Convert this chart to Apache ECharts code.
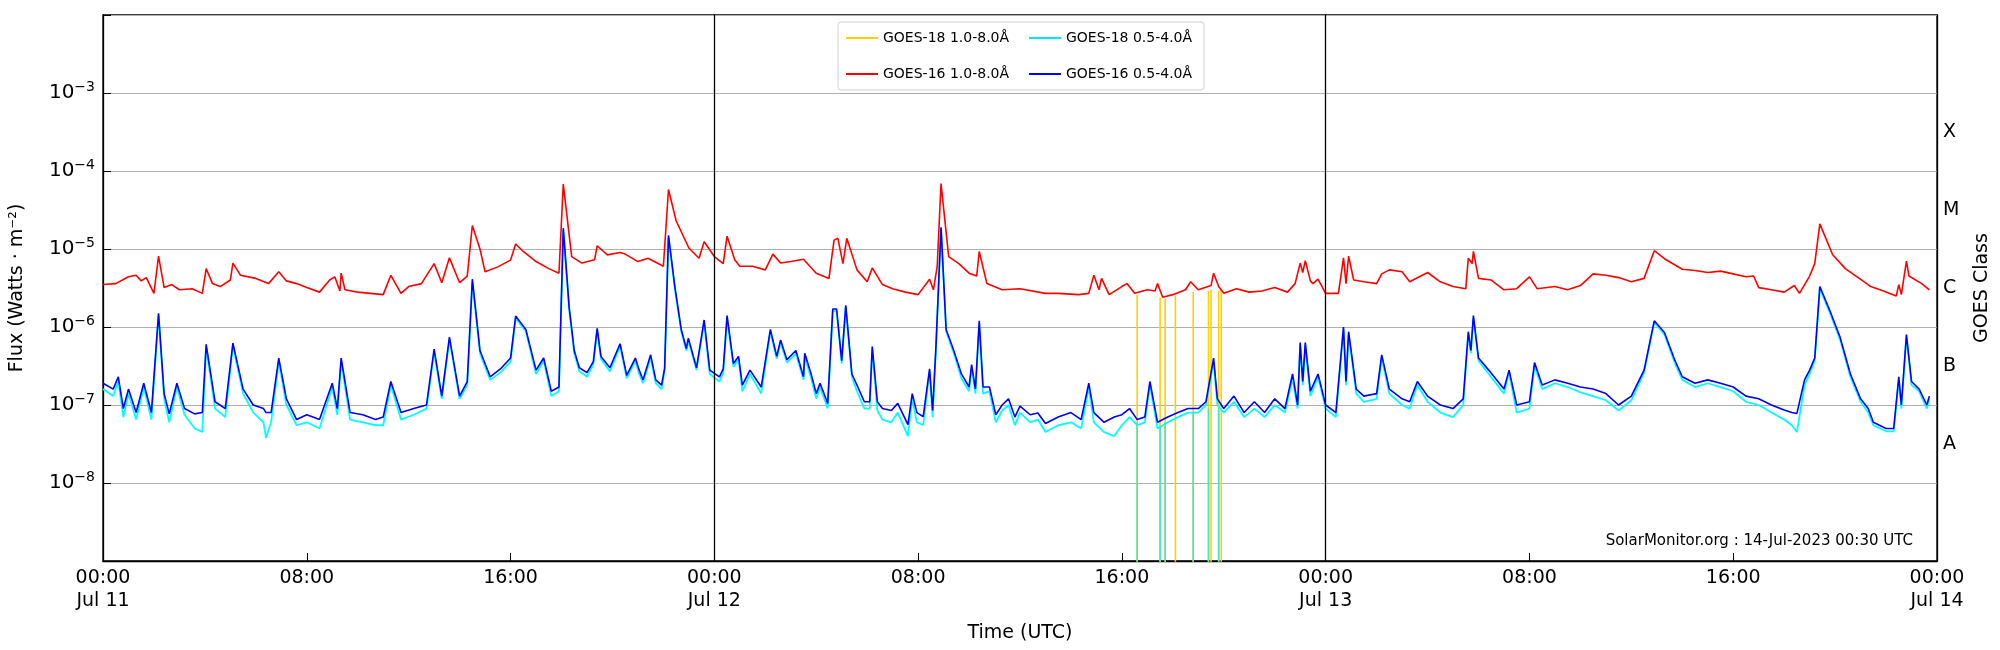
<!DOCTYPE html>
<html><head><meta charset="utf-8">
<script src="https://cdn.jsdelivr.net/npm/echarts@6/dist/echarts.min.js"></script>
<style>html,body{margin:0;padding:0;background:#fff}#c{width:2000px;height:650px}</style>
</head><body><div id="c"></div>
<script>
// ---- data (hours since 2023-07-11 00:00 UTC) ----
const xTickLabels = ['00:00\nJul 11','08:00','16:00','00:00\nJul 12','08:00','16:00','00:00\nJul 13','08:00','16:00','00:00\nJul 14'];
const classLabels = {'-7.5':'A','-6.5':'B','-5.5':'C','-4.5':'M','-3.5':'X'};

const longHours = [0,0.5,1,1.3,1.5,1.7,2,2.18,2.4,2.7,3,3.5,3.9,4.05,4.3,4.6,5,5.1,5.4,6,6.5,6.9,7.2,7.6,8,8.5,8.9,9.1,9.3,9.35,9.5,10,10.5,11,11.3,11.7,12,12.5,13,13.3,13.6,14,14.3,14.5,14.8,15,15.5,16,16.2,16.5,17,17.5,17.9,18.07,18.4,18.8,19.3,19.4,19.8,20.3,20.5,21,21.4,22,22.2,22.5,23,23.4,23.6,24,24.35,24.5,24.8,25,25.5,26,26.3,26.6,27,27.5,28,28.5,28.7,28.85,29.05,29.2,29.6,30,30.2,30.6,31,31.5,32,32.45,32.6,32.75,32.9,33.2,33.6,34,34.3,34.4,34.7,35.3,36,37,37.5,38.3,38.7,38.9,39.1,39.2,39.5,40,40.2,40.5,41,41.3,41.4,41.6,42,42.5,42.7,43,43.5,43.6,43.8,44,44.5,45,45.5,46,46.5,46.8,47,47.1,47.2,47.4,47.5,47.7,48,48.5,48.7,48.8,48.9,49.1,49.5,50,50.2,50.5,51,51.3,52,52.5,53,53.5,53.6,53.75,53.8,54,54.5,55,55.5,56,56.3,57,57.5,58,58.5,59,59.5,60,60.5,60.9,61.3,62,62.5,63,63.5,64,64.5,64.8,65,65.5,66,66.4,66.6,67,67.2,67.4,67.9,68.4,68.95,69.4,69.9,70.4,70.5,70.6,70.8,70.9,71.4,71.7];
const g16Long = [3.5e-6,3.6e-6,4.4e-6,4.6e-6,3.9e-6,4.3e-6,2.7e-6,8.1e-6,3.2e-6,3.5e-6,3.0e-6,3.1e-6,2.7e-6,5.6e-6,3.6e-6,3.3e-6,4.0e-6,6.6e-6,4.6e-6,4.2e-6,3.6e-6,5.1e-6,3.9e-6,3.6e-6,3.2e-6,2.8e-6,4.0e-6,4.4e-6,2.9e-6,4.9e-6,3.0e-6,2.8e-6,2.7e-6,2.6e-6,4.6e-6,2.7e-6,3.3e-6,3.6e-6,6.5e-6,3.7e-6,7.7e-6,3.7e-6,4.5e-6,2.0e-5,1.0e-5,5.1e-6,5.9e-6,7.2e-6,1.16e-5,9.3e-6,6.9e-6,5.6e-6,4.9e-6,6.8e-5,8e-6,6.6e-6,7.3e-6,1.1e-5,8.4e-6,9e-6,8.6e-6,6.9e-6,7.6e-6,6.0e-6,5.8e-5,2.3e-5,1.03e-5,7.6e-6,1.24e-5,8e-6,6.5e-6,1.46e-5,7.3e-6,6.0e-6,6.0e-6,5.4e-6,8.6e-6,6.6e-6,6.9e-6,7.4e-6,4.9e-6,4.2e-6,1.3e-5,1.37e-5,6.5e-6,1.37e-5,5.4e-6,3.8e-6,5.7e-6,3.5e-6,3.1e-6,2.8e-6,2.6e-6,4.1e-6,3.0e-6,6e-6,6.9e-5,8e-6,6.5e-6,4.9e-6,4.5e-6,9.3e-6,3.6e-6,3.0e-6,3.1e-6,2.7e-6,2.7e-6,2.6e-6,2.7e-6,4.6e-6,3.0e-6,4.2e-6,2.6e-6,3.3e-6,3.6e-6,2.7e-6,3.0e-6,2.9e-6,3.6e-6,2.4e-6,2.6e-6,3.0e-6,3.8e-6,3.0e-6,3.4e-6,4.9e-6,3.3e-6,2.7e-6,3.1e-6,2.8e-6,2.9e-6,3.2e-6,2.8e-6,3.6e-6,6.6e-6,5e-6,7.1e-6,3.9e-6,3.6e-6,4.1e-6,2.7e-6,2.7e-6,7.7e-6,3.6e-6,8.1e-6,4.0e-6,3.8e-6,3.6e-6,4.8e-6,5.4e-6,5.1e-6,3.8e-6,5.0e-6,3.8e-6,3.3e-6,3.1e-6,7.6e-6,6.5e-6,9.3e-6,4.2e-6,4.0e-6,3.0e-6,3.1e-6,4.4e-6,3.1e-6,3.3e-6,3.0e-6,3.4e-6,4.8e-6,4.6e-6,4.3e-6,3.8e-6,4.2e-6,9.5e-6,7.5e-6,5.5e-6,5.3e-6,5.0e-6,5.2e-6,4.8e-6,4.4e-6,4.5e-6,3.2e-6,3.0e-6,2.8e-6,3.4e-6,2.7e-6,4.5e-6,6.5e-6,2.1e-5,8.5e-6,5.6e-6,4.2e-6,3.3e-6,2.9e-6,2.5e-6,3.5e-6,2.6e-6,7e-6,4.5e-6,3.6e-6,3.0e-6];

const shortHours = [0,0.4,0.6,0.8,1.0,1.3,1.6,1.9,2.18,2.4,2.6,2.9,3.2,3.6,3.9,4.05,4.4,4.8,5.1,5.5,5.9,6.3,6.4,6.6,6.9,7.2,7.6,8.0,8.5,9.0,9.2,9.35,9.7,10.2,10.7,11.0,11.3,11.7,12.2,12.7,13.0,13.3,13.6,14.0,14.3,14.5,14.8,15.2,15.6,16.0,16.2,16.6,17.0,17.3,17.6,17.9,18.07,18.3,18.5,18.7,19.0,19.25,19.4,19.55,19.9,20.3,20.56,20.9,21.05,21.2,21.5,21.7,21.93,22.05,22.2,22.45,22.7,22.9,22.98,23.3,23.6,23.82,24.2,24.35,24.5,24.75,24.95,25.1,25.4,25.84,26.2,26.45,26.6,26.85,27.2,27.5,27.55,27.8,28.0,28.15,28.45,28.65,28.8,29.0,29.16,29.4,29.6,29.89,30.1,30.2,30.4,30.6,30.95,31.2,31.6,31.77,31.95,32.2,32.45,32.57,32.7,32.9,33.1,33.4,33.7,34.0,34.1,34.25,34.4,34.55,34.8,35.05,35.3,35.55,35.8,36.0,36.4,36.7,37.0,37.5,38.0,38.4,38.7,38.9,39.3,39.7,40.0,40.3,40.6,40.9,41.1,41.4,41.8,42.2,42.6,43.0,43.3,43.6,43.75,44.0,44.4,44.8,45.2,45.6,46.0,46.4,46.7,46.9,47.0,47.1,47.2,47.4,47.7,48.0,48.4,48.7,48.8,48.9,49.2,49.5,50.0,50.2,50.5,51.0,51.3,51.6,52.0,52.5,53.0,53.4,53.6,53.7,53.8,54.0,54.4,55.0,55.2,55.5,56.0,56.2,56.5,57.0,57.5,58.0,58.5,59.0,59.5,60.0,60.5,60.9,61.3,61.7,62.0,62.5,63.0,63.5,64.0,64.5,65.0,65.5,66.0,66.3,66.5,66.8,67.0,67.2,67.4,67.8,68.2,68.6,69.0,69.3,69.5,70.0,70.3,70.5,70.6,70.8,71.0,71.3,71.6,71.7];
const g16Short = [1.9e-7,1.6e-7,2.3e-7,9e-8,1.6e-7,8e-8,1.9e-7,8e-8,1.5e-6,1.4e-7,7.7e-8,1.9e-7,9e-8,7.7e-8,8e-8,6e-7,1.1e-7,9e-8,6.2e-7,1.6e-7,1e-7,9e-8,8e-8,8e-8,4e-7,1.2e-7,6.5e-8,7.5e-8,6.5e-8,1.9e-7,9e-8,4e-7,8e-8,7.5e-8,6.5e-8,7e-8,2e-7,8e-8,9e-8,1e-7,5.2e-7,1.3e-7,7.4e-7,1.3e-7,2e-7,4.1e-6,5e-7,2.3e-7,2.9e-7,4e-7,1.38e-6,9.3e-7,2.8e-7,4e-7,1.5e-7,1.7e-7,1.85e-5,1.8e-6,5e-7,3e-7,2.6e-7,3.6e-7,9.6e-7,4.2e-7,3e-7,6.1e-7,2.4e-7,4e-7,2.8e-7,2.1e-7,4.4e-7,2.1e-7,1.8e-7,3e-7,1.5e-5,3.3e-6,9.3e-7,5.3e-7,7.2e-7,3e-7,1.23e-6,2.8e-7,2.3e-7,2.9e-7,1.4e-6,3.4e-7,4.2e-7,1.8e-7,2.8e-7,1.7e-7,9.3e-7,4.2e-7,6.8e-7,3.8e-7,5e-7,2.3e-7,4.6e-7,2.5e-7,1.4e-7,1.9e-7,1.05e-7,1.7e-6,1.7e-6,3.7e-7,1.9e-6,2.5e-7,1.8e-7,1.1e-7,1.1e-7,5.6e-7,1.1e-7,9e-8,8.5e-8,1.05e-7,5.6e-8,1.4e-7,8e-8,7.1e-8,2.9e-7,8.5e-8,5.6e-7,1.9e-5,9.3e-7,5e-7,2.5e-7,1.7e-7,3.3e-7,1.6e-7,1.2e-6,1.7e-7,1.7e-7,7.5e-8,1e-7,1.2e-7,7e-8,9.7e-8,7.5e-8,7.9e-8,5.8e-8,7e-8,8e-8,6.5e-8,1.9e-7,8e-8,6e-8,7e-8,7.5e-8,9e-8,6.5e-8,7e-8,2e-7,6e-8,7e-8,8e-8,9e-8,9e-8,1.1e-7,4e-7,1.2e-7,9e-8,1.3e-7,8e-8,1.1e-7,8e-8,1.2e-7,9e-8,2.5e-7,1e-7,6.3e-7,2e-7,6.3e-7,1.5e-7,2.5e-7,1e-7,8e-8,1e-6,2e-7,8.7e-7,1.6e-7,1.3e-7,1.4e-7,4.4e-7,1.6e-7,1.2e-7,1.1e-7,2e-7,1.3e-7,1e-7,9e-8,1.2e-7,8.7e-7,5e-7,1.4e-6,4e-7,2.8e-7,1.6e-7,2.8e-7,1e-7,1.1e-7,3.5e-7,1.8e-7,2.1e-7,1.9e-7,1.7e-7,1.6e-7,1.4e-7,1e-7,1.3e-7,2.8e-7,1.2e-6,8.5e-7,3.8e-7,2.3e-7,1.9e-7,2.1e-7,1.9e-7,1.7e-7,1.3e-7,1.2e-7,1e-7,8.6e-8,8e-8,7.8e-8,2.1e-7,2.8e-7,4e-7,3.3e-6,1.6e-6,7.3e-7,2.5e-7,1.2e-7,9e-8,6e-8,5e-8,5e-8,2.3e-7,1e-7,8e-7,2e-7,1.6e-7,1e-7,1.3e-7];
const g18Short = [1.6e-7,1.3e-7,2.0e-7,7e-8,1.4e-7,6.5e-8,1.7e-7,6.5e-8,1.4e-6,1.2e-7,6e-8,1.7e-7,7.5e-8,5e-8,4.5e-8,5.5e-7,9e-8,7e-8,5.8e-7,1.4e-7,8e-8,6e-8,3.8e-8,6e-8,3.6e-7,1e-7,5.5e-8,6e-8,5e-8,1.7e-7,7.5e-8,3.6e-7,6.5e-8,6e-8,5.5e-8,5.5e-8,1.8e-7,6.5e-8,7.5e-8,9e-8,4.8e-7,1.2e-7,7e-7,1.2e-7,1.8e-7,3.8e-6,4.6e-7,2.1e-7,2.6e-7,3.6e-7,1.3e-6,8.8e-7,2.5e-7,3.7e-7,1.3e-7,1.5e-7,1.75e-5,1.7e-6,4.6e-7,2.7e-7,2.3e-7,3.3e-7,9e-7,3.9e-7,2.7e-7,5.7e-7,2.2e-7,3.7e-7,2.5e-7,1.9e-7,4.1e-7,1.9e-7,1.6e-7,2.8e-7,1.4e-5,3.1e-6,8.8e-7,5e-7,6.8e-7,2.8e-7,1.15e-6,2.5e-7,2e-7,2.6e-7,1.3e-6,3.1e-7,3.9e-7,1.5e-7,2.5e-7,1.4e-7,8.8e-7,3.9e-7,6.3e-7,3.5e-7,4.6e-7,2.1e-7,4.2e-7,2.2e-7,1.2e-7,1.7e-7,9e-8,1.6e-6,1.6e-6,3.4e-7,1.8e-6,2.3e-7,1.5e-7,9e-8,9e-8,5.2e-7,8.5e-8,6.5e-8,6e-8,8e-8,4e-8,1.2e-7,6e-8,5.5e-8,2.7e-7,7e-8,5.2e-7,1.8e-5,8.8e-7,4.6e-7,2.2e-7,1.5e-7,3e-7,1.4e-7,1.1e-6,1.4e-7,1.5e-7,6e-8,8.5e-8,1e-7,5.5e-8,8e-8,6e-8,6.5e-8,4.5e-8,5.5e-8,6e-8,5e-8,1.7e-7,6e-8,4.5e-8,4e-8,5.5e-8,7e-8,5.5e-8,6e-8,1.8e-7,5e-8,6e-8,7e-8,8e-8,8e-8,1e-7,3.6e-7,1e-7,8e-8,1.1e-7,7e-8,9e-8,7e-8,1e-7,8e-8,2.2e-7,9e-8,5.8e-7,1.8e-7,5.8e-7,1.3e-7,2.3e-7,9e-8,7e-8,9.5e-7,1.8e-7,8.2e-7,1.4e-7,1.1e-7,1.2e-7,4e-7,1.4e-7,1e-7,9e-8,1.8e-7,1.1e-7,8e-8,7e-8,1e-7,8.2e-7,4.6e-7,1.3e-6,3.7e-7,2.5e-7,1.4e-7,2.6e-7,8e-8,9e-8,3.2e-7,1.6e-7,1.9e-7,1.7e-7,1.45e-7,1.3e-7,1.15e-7,8.5e-8,1.15e-7,2.6e-7,1.15e-6,8e-7,3.5e-7,2.1e-7,1.7e-7,1.9e-7,1.7e-7,1.5e-7,1.1e-7,1e-7,8e-8,6.5e-8,5.5e-8,4.5e-8,1.8e-7,2.5e-7,3.7e-7,3.1e-6,1.5e-6,6.8e-7,2.3e-7,1.1e-7,8e-8,5.5e-8,4.6e-8,4.6e-8,2.1e-7,9e-8,7.5e-7,1.8e-7,1.5e-7,9e-8,1.2e-7];

// data gaps (drop-outs) of GOES-18, shown as vertical drops to the bottom
const g18LongDropHours = [40.6,41.5,41.7,42.1,42.8,43.4,43.5,43.8,43.9];
const g18LongDropTop   = [2.6e-6,2.4e-6,2.3e-6,2.5e-6,2.8e-6,2.9e-6,3.0e-6,2.9e-6,3.0e-6];
const g18ShortDropHours = [40.6,41.5,41.7,42.8,43.4,43.8];
const g18ShortDropTop   = [6e-8,5.5e-8,6e-8,8e-8,9e-8,9e-8];
const dropBottom = 1e-10;

function pairs(h,v){return h.map((t,i)=>[t,v[i]]);}
function drops(h,top){const out=[];h.forEach((t,i)=>{out.push([t,top[i]]);out.push([t,dropBottom]);out.push(null);});return out;}

const chart = echarts.init(document.getElementById('c'));
const F = 'DejaVu Sans';
const N18L='GOES-18 1.0-8.0Å', N18S='GOES-18 0.5-4.0Å', N16L='GOES-16 1.0-8.0Å', N16S='GOES-16 0.5-4.0Å';
const base = {type:'line',showSymbol:false,symbol:'none',animation:false,clip:true,connectNulls:false};
chart.setOption({
  backgroundColor:'#fff',
  textStyle:{fontFamily:F},
  grid:{left:101,right:60,top:15,bottom:89,show:true,borderColor:'#000',borderWidth:1.3,backgroundColor:'transparent'},
  legend:{
    data:[N18L,N18S,N16L,N16S],
    left:838,top:22,width:370,itemGap:16,itemWidth:32,itemHeight:2,icon:'rect',
    backgroundColor:'#fff',borderColor:'#d0d0d0',borderWidth:1,borderRadius:3,padding:[6,8,6,8],
    textStyle:{fontFamily:F,fontSize:14,color:'#000',width:130,lineHeight:20},
  },
  xAxis:{type:'value',min:0,max:72,interval:8,
    axisLine:{show:true,lineStyle:{color:'#000',width:1.3}},
    axisTick:{inside:true,length:8,lineStyle:{color:'#000'}},
    axisLabel:{fontFamily:F,fontSize:19,color:'#000',lineHeight:23,margin:6,formatter:v=>xTickLabels[Math.round(v/8)]||''},
    splitLine:{show:false},
    name:'Time (UTC)',nameLocation:'middle',nameGap:63,nameTextStyle:{fontFamily:F,fontSize:19,color:'#000'}},
  yAxis:[
    {type:'log',logBase:10,min:1e-9,max:1e-2,
     axisLine:{show:true,lineStyle:{color:'#000',width:1.3}},
     axisTick:{inside:true,length:8,lineStyle:{color:'#000'}},
     minorTick:{show:false},
     splitLine:{show:true,lineStyle:{color:'#b0b0b0',width:1.2}},
     axisLabel:{margin:8,formatter:v=>{const e=Math.round(Math.log10(v)); if(e<-8||e>-3) return ''; return '{b|10}{s|−'+(-e)+'}';},
       rich:{b:{fontFamily:F,fontSize:20,color:'#000'},s:{fontFamily:F,fontSize:14,color:'#000',padding:[0,0,12,0]}}},
     name:'Flux (Watts · m⁻²)',nameLocation:'middle',nameGap:76,nameRotate:90,nameTextStyle:{fontFamily:F,fontSize:19,color:'#000'}},
    {type:'value',min:-9,max:-2,interval:0.5,position:'right',
     axisLine:{show:true,lineStyle:{color:'#000',width:1.3}},
     axisTick:{show:false},splitLine:{show:false},
     axisLabel:{fontFamily:F,fontSize:19,color:'#000',margin:6,formatter:v=>classLabels[v.toFixed(1)]||''},
     name:'GOES Class',nameLocation:'middle',nameGap:36,nameRotate:90,nameTextStyle:{fontFamily:F,fontSize:19,color:'#000'}}
  ],
  graphic:[{type:'text',right:87,top:534,style:{text:'SolarMonitor.org : 14-Jul-2023 00:30 UTC',fontFamily:F,fontSize:15,fill:'#000'}}],
  series:[
    Object.assign({},base,{name:N18L,data:drops(g18LongDropHours,g18LongDropTop),color:'#ffd000',lineStyle:{width:1.6,color:'#ffd000'}}),
    Object.assign({},base,{name:N18S,data:pairs(shortHours,g18Short),color:'#00e8e8',lineStyle:{width:1.8,color:'#00ffff'}}),
    Object.assign({},base,{name:N18S,data:drops(g18ShortDropHours,g18ShortDropTop),color:'#00e8e8',lineStyle:{width:1.6,color:'#3be8d0'}}),
    Object.assign({},base,{name:N16L,data:pairs(longHours,g16Long),color:'#ff0000',lineStyle:{width:1.6,color:'#ff0000'}}),
    Object.assign({},base,{name:N16S,data:pairs(shortHours,g16Short),color:'#0000ff',lineStyle:{width:1.6,color:'#0000ff'},
      markLine:{silent:true,symbol:['none','none'],label:{show:false},animation:false,
        lineStyle:{color:'#000',width:1.3,type:'solid'},data:[{xAxis:24},{xAxis:48}]}})
  ]
});
</script></body></html>
